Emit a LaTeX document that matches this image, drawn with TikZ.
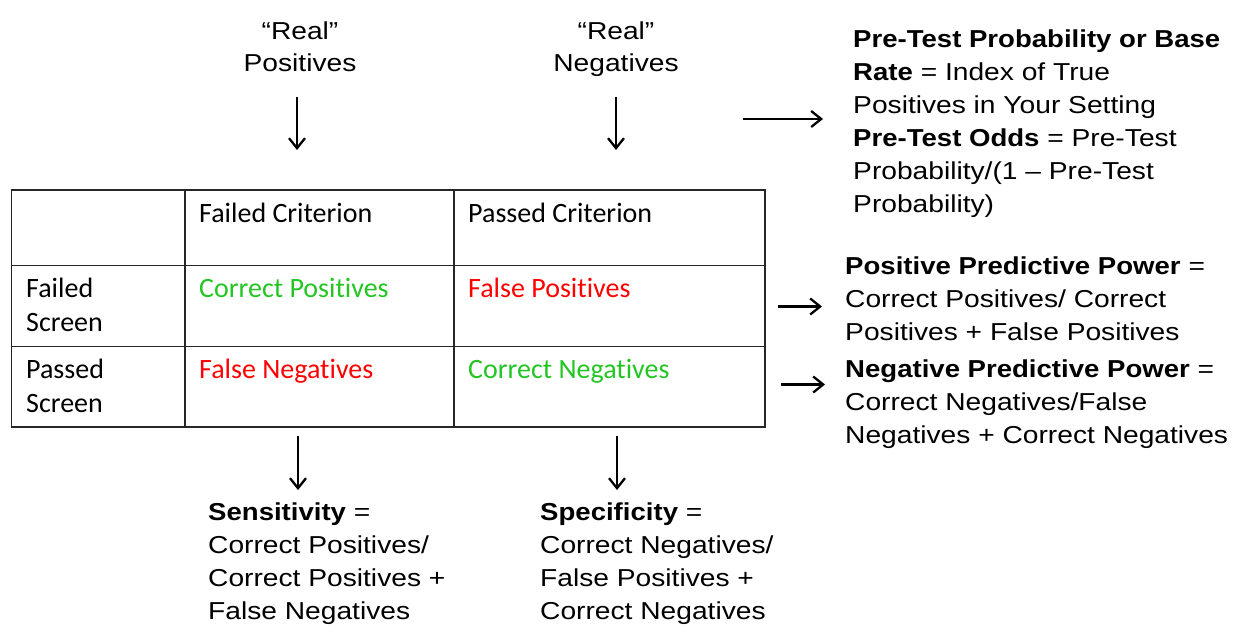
\documentclass[tikz,border=0pt]{standalone}
\usepackage{fontspec}
\setmainfont[FakeStretch=1.15,BoldFeatures={FakeStretch=1.125}]{Liberation Sans}
\newfontfamily\calib[Ligatures=NoCommon]{Carlito}
\usetikzlibrary{arrows.meta}
\definecolor{okgreen}{RGB}{34,197,34}
\definecolor{badred}{RGB}{255,0,0}
\tikzset{
  lbl/.style={font=\fontsize{24.5}{33}\selectfont, inner sep=0pt, anchor=base west, align=left},
  toplbl/.style={font=\fontsize{24.5}{31.7}\selectfont, inner sep=0pt, anchor=base, align=center},
  cell/.style={font=\calib\fontsize{28}{34}\selectfont, inner sep=0pt, anchor=base west, align=left},
  arr/.style={line width=2.3pt, -{Straight Barb[length=10pt,width=16pt]}},
  gridline/.style={line width=1.4pt, draw=black!85},
}
\begin{document}
\begin{tikzpicture}[x=1pt,y={(0pt,-1pt)}]
\useasboundingbox (0,0) rectangle (1239,626);
% top labels (anchored at the baseline of the last line)
\node[toplbl] (realpos) at (300,71.7) {``Real''\\Positives};
\node[toplbl] (realneg) at (616,71.7) {``Real''\\Negatives};
% table
\draw[gridline] (11.5,190) rectangle (765,427);
\draw[gridline] (185,190) -- (185,427);
\draw[gridline] (454,190) -- (454,427);
\draw[gridline] (11.5,265.5) -- (765,265.5);
\draw[gridline] (11.5,346.5) -- (765,346.5);
\node[cell] (hfc) at (199,222) {Failed Criterion};
\node[cell] (hpc) at (468,222) {Passed Criterion};
\node[cell] (rfs) at (26,331) {Failed\\Screen};
\node[cell] (rps) at (26,412) {Passed\\Screen};
\node[cell, text=okgreen] (cp) at (199,297) {Correct Positives};
\node[cell, text=badred] (fp) at (468,297) {False Positives};
\node[cell, text=badred] (fn) at (199,378) {False Negatives};
\node[cell, text=okgreen] (cn) at (468,378) {Correct Negatives};
% right texts
\node[lbl] (pretest) at (853,212.5) {\textbf{Pre-Test Probability or Base}\\\textbf{Rate} = Index of True\\Positives in Your Setting\\\textbf{Pre-Test Odds} = Pre-Test\\Probability/(1 -- Pre-Test\\Probability)};
\node[lbl] (ppp) at (845,340.5) {\textbf{Positive Predictive Power} =\\Correct Positives/ Correct\\Positives + False Positives};
\node[lbl] (npp) at (845,443.5) {\textbf{Negative Predictive Power} =\\Correct Negatives/False\\Negatives + Correct Negatives};
% bottom texts
\node[lbl] (sens) at (208,619.5) {\textbf{Sensitivity} =\\Correct Positives/\\Correct Positives +\\False Negatives};
\node[lbl] (spec) at (540,619.5) {\textbf{Specificity} =\\Correct Negatives/\\False Positives +\\Correct Negatives};
% arrow end points
\coordinate (a1s) at (297,97);  \coordinate (a1e) at (297,150);
\coordinate (a2s) at (616,97);  \coordinate (a2e) at (616,150);
\coordinate (a3s) at (298,436); \coordinate (a3e) at (298,490);
\coordinate (a4s) at (617,436); \coordinate (a4e) at (617,490);
\coordinate (a5s) at (743,119); \coordinate (a5e) at (823,119);
\coordinate (a6s) at (778,306.5); \coordinate (a6e) at (822,306.5);
\coordinate (a7s) at (781,384.5); \coordinate (a7e) at (825,384.5);
\draw[arr] (a1s) -- (a1e);
\draw[arr] (a2s) -- (a2e);
\draw[arr] (a3s) -- (a3e);
\draw[arr] (a4s) -- (a4e);
\draw[arr] (a5s) -- (a5e);
\draw[arr] (a6s) -- (a6e);
\draw[arr] (a7s) -- (a7e);
\end{tikzpicture}
\end{document}
